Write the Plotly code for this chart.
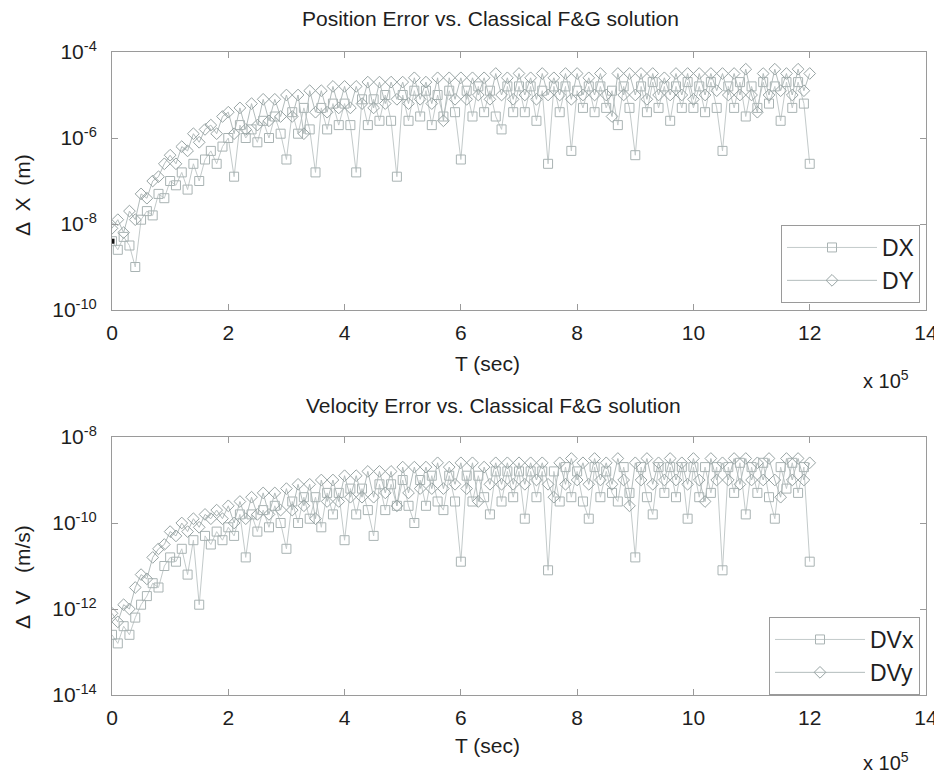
import plotly.graph_objects as go

# Time in units of 1e4 s
T_1e4 = [0, 1, 2, 3, 4, 5, 6, 7, 8, 9, 10, 11, 12, 13, 14, 15, 16, 17, 18, 19,
         20, 21, 22, 23, 24, 25, 26, 27, 28, 29, 30, 31, 32, 33, 34, 35, 36, 37, 38, 39,
         40, 41, 42, 43, 44, 45, 46, 47, 48, 49, 50, 51, 52, 53, 54, 55, 56, 57, 58, 59,
         60, 61, 62, 63, 64, 65, 66, 67, 68, 69, 70, 71, 72, 73, 74, 75, 76, 77, 78, 79,
         80, 81, 82, 83, 84, 85, 86, 87, 88, 89, 90, 91, 92, 93, 94, 95, 96, 97, 98, 99,
         100, 101, 102, 103, 104, 105, 106, 107, 108, 109, 110, 111, 112, 113, 114, 115, 116, 117, 118, 119,
         120]

# log10 of position errors (m)
DX_log = [-8.4, -8.6, -8.3, -8.5, -9.0, -7.9, -7.7, -7.8, -7.3, -7.4,
          -7.0, -7.1, -6.8, -7.2, -6.6, -7.0, -6.5, -6.3, -6.6, -6.2,
          -6.0, -6.9, -5.7, -6.0, -5.8, -6.1, -5.6, -6.0, -5.5, -5.9,
          -6.5, -5.4, -5.9, -5.3, -5.8, -6.8, -5.3, -5.8, -5.2, -5.7,
          -5.2, -5.7, -6.8, -5.1, -5.7, -5.1, -5.6, -5.0, -5.6, -6.9,
          -5.0, -5.6, -4.9, -5.5, -4.9, -5.7, -5.0, -5.5, -4.9, -5.4,
          -6.5, -4.9, -5.5, -4.8, -5.4, -4.9, -5.5, -5.8, -4.8, -5.4,
          -4.8, -5.4, -4.8, -5.6, -4.9, -6.6, -4.8, -5.4, -4.8, -6.3,
          -4.9, -5.3, -4.8, -5.4, -4.8, -5.3, -4.9, -5.7, -4.8, -5.3,
          -6.4, -4.8, -5.4, -4.7, -5.3, -4.8, -5.6, -4.8, -5.3, -4.7,
          -5.3, -4.8, -5.4, -4.7, -5.3, -6.3, -4.8, -5.3, -4.7, -5.5,
          -4.8, -5.3, -4.7, -5.2, -4.8, -5.6, -4.7, -5.3, -4.7, -5.2,
          -6.6]

DY_log = [-8.1, -7.9, -8.2, -7.7, -7.9, -7.3, -7.4, -7.0, -6.9, -6.6,
          -6.4, -6.6, -6.2, -6.3, -5.9, -6.1, -5.8, -5.7, -5.9, -5.5,
          -5.4, -5.9, -5.3, -5.8, -5.2, -5.7, -5.1, -5.6, -5.1, -5.5,
          -5.0, -5.5, -5.0, -5.9, -4.9, -5.4, -4.9, -5.4, -4.8, -5.3,
          -4.8, -5.3, -4.8, -5.2, -4.7, -5.3, -4.7, -5.2, -4.7, -5.1,
          -4.7, -5.2, -4.6, -5.1, -4.7, -5.2, -4.6, -5.6, -4.6, -5.1,
          -4.6, -5.1, -4.6, -5.0, -4.6, -5.1, -4.5, -5.0, -4.6, -5.1,
          -4.5, -5.0, -4.6, -5.1, -4.5, -5.0, -4.6, -5.0, -4.5, -5.1,
          -4.5, -5.0, -4.6, -5.0, -4.5, -5.0, -5.5, -4.5, -5.0, -4.5,
          -5.0, -4.5, -5.1, -4.5, -5.0, -4.6, -5.0, -4.5, -5.0, -4.5,
          -5.1, -4.5, -5.0, -4.5, -4.9, -4.5, -5.0, -4.5, -5.0, -4.4,
          -5.0, -5.4, -4.5, -5.0, -4.4, -4.9, -4.5, -5.0, -4.4, -4.9,
          -4.5]

# log10 of velocity errors (m/s)
DVx_log = [-12.6, -12.8, -12.4, -12.6, -12.2, -11.9, -11.7, -11.4, -11.5, -11.0,
           -10.8, -10.9, -10.6, -11.2, -10.4, -11.9, -10.3, -10.5, -10.2, -10.4,
           -10.1, -10.3, -9.8, -10.8, -9.8, -10.2, -9.7, -10.1, -9.6, -10.0,
           -10.6, -9.5, -10.0, -9.4, -9.9, -9.4, -10.1, -9.3, -9.8, -9.3,
           -10.4, -9.2, -9.8, -9.2, -9.7, -10.3, -9.1, -9.7, -9.1, -9.6,
           -9.0, -9.6, -10.0, -9.0, -9.6, -8.9, -9.5, -9.7, -8.9, -9.5,
           -10.9, -8.9, -9.5, -8.9, -9.4, -9.8, -8.8, -9.5, -8.8, -9.4,
           -8.8, -9.9, -8.8, -9.4, -8.8, -11.1, -8.8, -9.5, -8.7, -9.4,
           -8.8, -9.5, -9.9, -8.7, -9.4, -8.8, -9.3, -9.5, -8.7, -9.3,
           -10.8, -8.7, -9.4, -9.8, -8.7, -9.3, -8.7, -9.4, -8.7, -9.9,
           -8.7, -9.4, -8.7, -9.3, -8.7, -11.1, -8.7, -9.3, -8.6, -9.8,
           -8.7, -9.3, -8.6, -9.4, -9.9, -8.7, -9.2, -8.6, -9.3, -8.7,
           -10.9]

DVy_log = [-12.1, -12.3, -11.9, -12.0, -11.5, -11.2, -11.3, -10.8, -10.6, -10.5,
           -10.2, -10.3, -10.0, -10.2, -9.9, -10.1, -9.8, -9.9, -9.7, -9.9,
           -9.6, -10.0, -9.5, -9.9, -9.4, -9.8, -9.3, -9.8, -9.3, -9.7,
           -9.2, -9.7, -9.1, -9.6, -9.1, -9.9, -9.0, -9.5, -9.0, -9.5,
           -8.9, -9.4, -8.9, -9.4, -8.8, -9.4, -8.8, -9.3, -8.8, -9.6,
           -8.7, -9.3, -8.7, -9.2, -8.7, -9.2, -8.6, -9.2, -8.7, -9.1,
           -8.6, -9.2, -8.6, -9.5, -8.7, -9.1, -8.6, -9.1, -8.6, -9.1,
           -8.6, -9.1, -8.6, -9.0, -8.6, -9.1, -9.4, -8.6, -9.1, -8.5,
           -9.0, -8.6, -9.1, -8.5, -9.0, -8.6, -9.1, -8.5, -9.0, -9.6,
           -8.6, -9.0, -8.5, -9.1, -8.6, -9.0, -8.5, -9.0, -8.6, -9.1,
           -8.5, -9.0, -9.5, -8.5, -9.0, -8.6, -9.0, -8.5, -9.1, -8.5,
           -9.0, -8.6, -9.0, -8.5, -9.0, -9.4, -8.5, -9.0, -8.5, -9.0,
           -8.6]

x_tick_vals = [0, 2, 4, 6, 8, 10, 12, 14]          # x 1e5 s
x_tick_text = ["0", "2", "4", "6", "8", "10", "12", "14"]
top_y_exp = [-4, -6, -8, -10]
bot_y_exp = [-8, -10, -12, -14]

T = [v * 1e4 for v in T_1e4]
DX = [10 ** v for v in DX_log]
DY = [10 ** v for v in DY_log]
DVx = [10 ** v for v in DVx_log]
DVy = [10 ** v for v in DVy_log]

FONT = "Liberation Sans, Arial, sans-serif"
AX = "#9a9a9a"
TXT = "#1e1e1e"

fig = go.Figure()

def add(x, y, name, xa, ya, sym, lcol, mcol, leg):
    fig.add_trace(go.Scatter(
        x=x, y=y, name=name, mode="lines+markers", xaxis=xa, yaxis=ya,
        line=dict(color=lcol, width=1),
        marker=dict(symbol=sym, size=9, color=mcol, line=dict(width=1, color=mcol)),
        legend=leg))

add(T, DX, "DX", "x", "y", "square-open", "#c3caca", "#a9b3b3", "legend")
add(T, DY, "DY", "x", "y", "diamond-open", "#b3bcbc", "#97a3a3", "legend")
fig.add_trace(go.Scatter(x=[T[0]], y=[DX[0]], mode="markers", xaxis="x", yaxis="y",
                         marker=dict(symbol="square", size=5, color="#111"),
                         showlegend=False))
add(T, DVx, "DVx", "x2", "y2", "square-open", "#c3caca", "#a9b3b3", "legend2")
add(T, DVy, "DVy", "x2", "y2", "diamond-open", "#b3bcbc", "#97a3a3", "legend2")

# page body has an 8px margin: lay out in page pixels, shifted by 8
OFF = 8
W, H = 942 - OFF, 778 - OFF

def px(x):
    return (x - OFF) / W

def py(y):
    return 1 - (y - OFF) / H

xl, xr = px(112), px(926)
top_dom = [py(310), py(52)]
bot_dom = [py(695), py(437)]

TICKF = dict(size=21, color=TXT, family=FONT)

xaxis_common = dict(range=[0, 1.4e6], tickvals=[v * 1e5 for v in x_tick_vals],
                    ticktext=x_tick_text, ticks="inside", ticklen=6, tickcolor=AX,
                    showline=True, linecolor=AX, mirror="ticks", showgrid=False,
                    zeroline=False, tickfont=TICKF, ticklabelstandoff=4,
                    domain=[xl, xr], automargin=False)

def yaxis(exps, rng):
    return dict(type="log", range=rng, tickvals=[10 ** e for e in exps],
                ticktext=["10<sup>%d</sup>" % e for e in exps], ticks="inside",
                ticklen=6, tickcolor=AX, showline=True, linecolor=AX, mirror="ticks",
                showgrid=False, zeroline=False, automargin=False,
                ticklabelstandoff=10, tickfont=TICKF)

legend_common = dict(xanchor="right", yanchor="top", bgcolor="white", bordercolor=AX,
                     borderwidth=1, font=dict(size=23, color=TXT, family=FONT),
                     itemwidth=90)

def note(text, x, y, size=21, angle=0):
    return dict(text=text, x=px(x), y=py(y), xref="paper", yref="paper",
                showarrow=False, xanchor="center", yanchor="middle", textangle=angle,
                font=dict(size=size, color=TXT, family=FONT))

fig.update_layout(
    width=W, height=H, margin=dict(l=0, r=0, t=0, b=0, autoexpand=False),
    paper_bgcolor="white", plot_bgcolor="white",
    font=dict(family=FONT, color=TXT),
    xaxis=dict(xaxis_common, anchor="y"),
    yaxis=dict(yaxis(top_y_exp, [-10, -4]), domain=top_dom, anchor="x"),
    xaxis2=dict(xaxis_common, anchor="y2"),
    yaxis2=dict(yaxis(bot_y_exp, [-14, -8]), domain=bot_dom, anchor="x2"),
    legend=dict(legend_common, x=px(920), y=py(225)),
    legend2=dict(legend_common, x=px(920), y=py(617)),
    annotations=[
        note("Position Error vs. Classical F&G solution", 490, 18),
        note("Velocity Error vs. Classical F&G solution", 493, 406),
        note("T (sec)", 487, 363),
        note("T (sec)", 487, 745),
        note("Δ  X  (m)", 22, 195, angle=-90),
        note("Δ  V   (m/s)", 22, 577, angle=-90),
        note("x 10<sup>5</sup>", 886, 379, size=20),
        note("x 10<sup>5</sup>", 886, 761, size=20),
    ],
)

fig.write_html("out.html")
